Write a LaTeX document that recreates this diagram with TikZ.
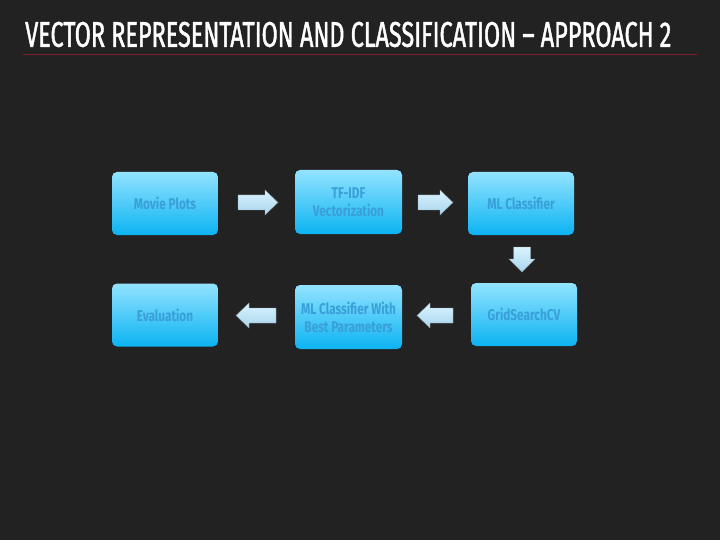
\documentclass[tikz,border=0pt]{standalone}
\usepackage{fontspec}
\newfontfamily\condfont[FakeStretch=0.76]{Fira Sans}
\newfontfamily\titlefont[FakeStretch=0.7,FakeBold=1.3]{Fira Sans}
\definecolor{bg}{HTML}{222222}
\definecolor{boxtop}{HTML}{92E3FF}
\definecolor{boxbot}{HTML}{0CB3F2}
\definecolor{boxtext}{HTML}{3A9FD8}
\definecolor{arrtop}{HTML}{DAF4FF}
\definecolor{arrbot}{HTML}{A8D4EC}
\definecolor{arrline}{HTML}{8E9CA6}
\definecolor{rule}{HTML}{7A1C27}
\begin{document}
\begin{tikzpicture}[x=1pt,y=-1pt,
  stepbox/.style={rounded corners=5pt, top color=boxtop, bottom color=boxbot,
    minimum width=106pt, minimum height=63pt, align=center, inner sep=2pt,
    text=boxtext, font=\condfont\bfseries\fontsize{15.5}{18}\selectfont},
  blockarrow/.style={top color=arrtop, bottom color=arrbot, draw=arrline, line width=0.4pt, line join=miter}]
\fill[bg] (0,0) rectangle (720,540);
\useasboundingbox (0,0) rectangle (720,540);
\node[anchor=west, text=white, inner sep=0pt] (title) at (25,34.5)
  {\resizebox{646pt}{25pt}{\titlefont VECTOR REPRESENTATION AND CLASSIFICATION \textendash{} APPROACH 2}};
\draw[rule, line width=1.2pt] (23,54.5) -- (697,54.5);

\node[stepbox] (mp) at (165,203.5) {Movie Plots};
\node[stepbox, minimum width=107pt, minimum height=64pt] (tf) at (348.5,202) {TF-IDF\\Vectorization};
\node[stepbox] (mlc) at (521,203.5) {ML Classifier};
\node[stepbox] (gs) at (524,314.5) {GridSearchCV};
\node[stepbox, minimum width=107pt, minimum height=64pt] (mlb) at (348.5,317) {ML Classifier With\\Best Parameters};
\node[stepbox] (ev) at (165,315) {Evaluation};

% block arrows between the steps
\coordinate (a1) at (238,202.5);
\coordinate (a2) at (418,202.5);
\coordinate (a3) at (522,247);
\coordinate (a4) at (453,315.5);
\coordinate (a5) at (276,315.5);
\draw[blockarrow] (a1) ++(0,-7.5) -- ++(27,0) -- ++(0,-5) -- ++(13,12.5) -- ++(-13,12.5) -- ++(0,-5) -- ++(-27,0) -- cycle;
\draw[blockarrow] (a2) ++(0,-7.5) -- ++(22,0) -- ++(0,-5) -- ++(13,12.5) -- ++(-13,12.5) -- ++(0,-5) -- ++(-22,0) -- cycle;
\draw[blockarrow] (a3) ++(-8.5,0) -- ++(0,12) -- ++(-4.5,0) -- ++(13,13) -- ++(13,-13) -- ++(-4.5,0) -- ++(0,-12) -- cycle;
\draw[blockarrow] (a4) ++(0,-7.5) -- ++(-23,0) -- ++(0,-5) -- ++(-13,12.5) -- ++(13,12.5) -- ++(0,-5) -- ++(23,0) -- cycle;
\draw[blockarrow] (a5) ++(0,-7.5) -- ++(-27,0) -- ++(0,-5) -- ++(-13,12.5) -- ++(13,12.5) -- ++(0,-5) -- ++(27,0) -- cycle;
\end{tikzpicture}
\end{document}
